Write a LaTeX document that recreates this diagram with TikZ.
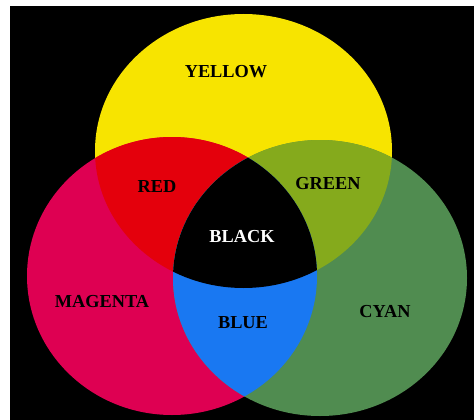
\documentclass[tikz,border=0pt]{standalone}
\usepackage{fontspec}
\setmainfont{Liberation Serif}
\definecolor{inkyellow}{RGB}{247,228,0}
\definecolor{inkmagenta}{RGB}{222,0,82}
\definecolor{inkcyan}{RGB}{80,140,80}
\definecolor{mixred}{RGB}{228,0,12}
\definecolor{mixgreen}{RGB}{133,170,28}
\definecolor{mixblue}{RGB}{25,120,242}
\definecolor{mixblack}{RGB}{0,0,0}
\tikzset{
  lbl/.style={font=\fontsize{18.3}{20}\selectfont\bfseries,text=black,inner sep=0pt},
  lblw/.style={lbl,text=white},
}
\def\discY{(243.5,151) ellipse [x radius=148.5,y radius=137]}
\def\discM{(172,276) ellipse [x radius=145,y radius=139]}
\def\discC{(320,278) ellipse [x radius=147,y radius=138]}
\begin{document}
\begin{tikzpicture}[x=1pt,y=-1pt]
  % frame
  \fill[white] (0,0) rectangle (474,420);
  \fill[black] (10,6) rectangle (474,420);
  \useasboundingbox (0,0) rectangle (474,420);
  % primaries
  \fill[inkyellow] \discY;
  \fill[inkmagenta] \discM;
  \fill[inkcyan] \discC;
  % pairwise mixes
  \begin{scope}
    \clip \discY; \fill[mixred] \discM;
  \end{scope}
  \begin{scope}
    \clip \discY; \fill[mixgreen] \discC;
  \end{scope}
  \begin{scope}
    \clip \discM; \fill[mixblue] \discC;
  \end{scope}
  \begin{scope}
    \clip \discY; \clip \discM; \fill[mixblack] \discC;
  \end{scope}
  % labels
  \node[lbl] (yellow) at (226,72) {YELLOW};
  \node[lbl] (red) at (157,187) {RED};
  \node[lbl] (green) at (328,184) {GREEN};
  \node[lblw] (blk) at (242,237) {BLACK};
  \node[lbl] (magenta) at (102,302) {MAGENTA};
  \node[lbl] (blue) at (243,323) {BLUE};
  \node[lbl] (cyan) at (385,312) {CYAN};
\end{tikzpicture}
\end{document}
